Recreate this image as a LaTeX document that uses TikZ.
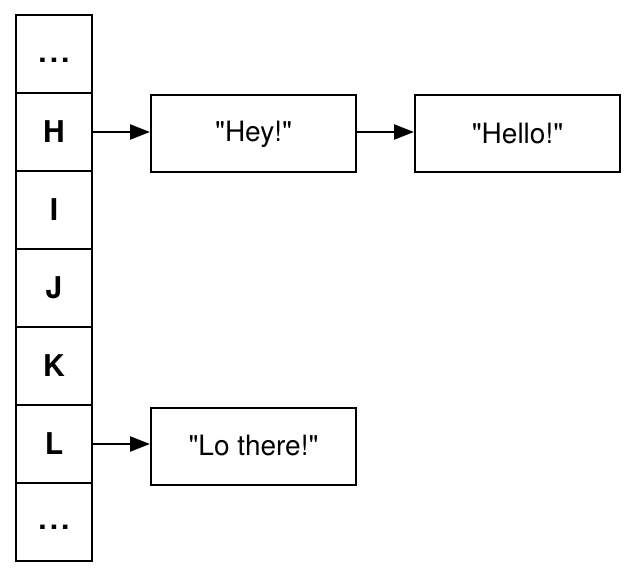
\documentclass[tikz,border=0pt]{standalone}
\usepackage{fontspec}
\setmainfont{TeX Gyre Heros}
\usetikzlibrary{arrows.meta}
\tikzstyle{every node}=[font=\fontsize{14}{16}\selectfont]
\tikzset{case/.style={draw, line width=1pt, minimum width=38pt, minimum height=39pt, inner sep=0pt, font=\fontsize{15}{17}\selectfont\bfseries},
	boite/.style={draw, line width=1pt, minimum width=102.5pt, minimum height=38.5pt, inner sep=0pt},
	fleche/.style={line width=1.2pt, -{Triangle[length=10pt, width=7.5pt]}}}
\newcommand{\pts}{\vphantom{x}.\kern1.5pt.\kern1.5pt.}

\begin{document}
\begin{tikzpicture}[x=0.5pt, y=-0.5pt]
	\useasboundingbox (0,0) rectangle (640,576);
	
	% table
	\node[case] (d1) at (54,54) {\pts};
	\node[case] (h) at (54,132) {H};
	\node[case] (i) at (54,210) {I};
	\node[case] (j) at (54,288) {J};
	\node[case] (k) at (54,366) {K};
	\node[case] (l) at (54,444) {L};
	\node[case] (d2) at (54,521.5) {\pts};
	
	% listes
	\node[boite] (hey) at (253.5,134) {\textquotedbl Hey!\textquotedbl};
	\node[boite] (hello) at (517.5,134) {\textquotedbl Hello!\textquotedbl};
	\node[boite] (lo) at (253.5,446) {\textquotedbl Lo there!\textquotedbl};
	
	% fleches
	\draw[fleche] (h.east) -- (hey.west |- h.east);
	\draw[fleche] (hey.east |- h.east) -- (hello.west |- h.east);
	\draw[fleche] (l.east) -- (lo.west |- l.east);
\end{tikzpicture}
\end{document}
